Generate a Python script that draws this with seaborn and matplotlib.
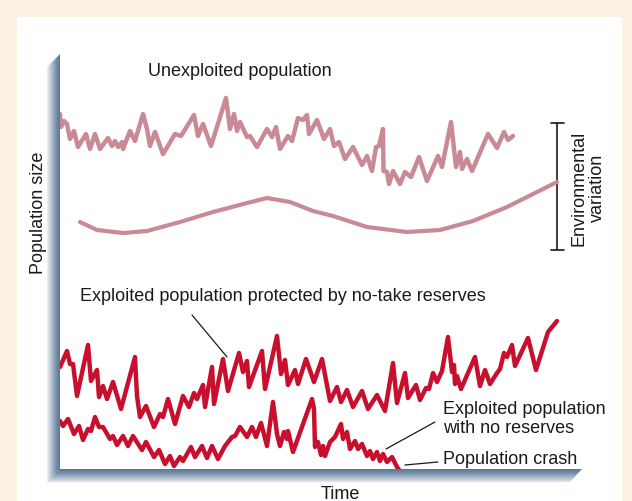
import numpy as np
import matplotlib
matplotlib.use("Agg")
import matplotlib.pyplot as plt
from matplotlib.colors import LinearSegmentedColormap
from matplotlib.patches import Polygon, Rectangle
import seaborn as sns

# DATA (time units / population size units)
# -----------------------------

unexploited_time = [0, 1, 4, 7, 10, 14, 18, 26, 30, 35, 40, 48, 52, 55, 58, 62, 63, 70, 75, 83,
                    87, 90, 95, 103, 115, 121, 134, 138, 143, 151, 166, 170, 174, 177, 180, 187,
                    190, 197, 207, 212, 216, 220, 228, 232, 238, 243, 247, 249, 257, 264, 270,
                    274, 279, 285, 293, 302, 307, 312, 316, 319, 323, 323.5, 327, 329, 333, 340,
                    345, 351, 359, 367, 378, 382, 391, 396, 400, 402, 407, 412, 428, 437, 444,
                    448, 453]
unexploited_size = [355, 342, 348, 345, 330, 338, 322, 335, 320, 335, 320, 331, 323, 328, 322, 327,
                    320, 338, 328, 355, 340, 323, 337, 315, 335, 333, 354, 333, 345, 323, 371,
                    340, 355, 338, 347, 332, 333, 322, 340, 332, 342, 320, 333, 328, 351, 349,
                    354, 335, 349, 330, 340, 323, 327, 310, 322, 304, 313, 298, 322, 323, 340,
                    298, 297, 285, 298, 285, 297, 292, 312, 288, 313, 302, 347, 302, 317, 300,
                    310, 298, 335, 321, 337, 329, 333]

environment_time = [20, 37, 63, 87, 120, 153, 187, 207, 230, 253, 273, 307, 347, 380, 413, 447,
                    473, 497]
environment_size = [247, 239, 236, 238, 247, 257, 266, 271, 267, 258, 253, 242, 237, 239, 248,
                    262, 275, 287]

reserves_time = [0, 7, 10, 13, 17, 28, 31, 37, 39, 43, 47, 53, 61, 75, 77, 80, 86, 94, 100, 103,
                 108, 115, 123, 129, 134, 137, 143, 145, 152, 154, 163, 168, 179, 183, 187, 189,
                 202, 205, 217, 221, 225, 228, 235, 238, 246, 254, 262, 270, 277, 281, 287, 293,
                 302, 308, 317, 325, 333, 337, 345, 348, 356, 360, 366, 369, 373, 377, 382, 388,
                 392, 394, 395, 397, 401, 415, 420, 425, 430, 437, 440, 444, 447, 452, 455, 468,
                 476, 488, 497]
reserves_size = [102, 118, 105, 105, 73, 124, 88, 99, 72, 83, 70, 87, 60, 112, 73, 52, 63, 42, 55,
                 52, 70, 45, 73, 62, 76, 70, 84, 62, 102, 65, 110, 78, 116, 97, 108, 82, 118, 80,
                 133, 95, 109, 84, 99, 85, 110, 87, 110, 68, 82, 67, 79, 62, 78, 60, 74, 58, 106,
                 66, 96, 71, 84, 69, 81, 80, 96, 87, 98, 132, 97, 104, 85, 93, 80, 112, 83, 99,
                 85, 96, 100, 116, 112, 124, 103, 131, 99, 137, 148]

no_reserves_time = [0, 3, 8, 12, 14, 19, 23, 28, 31, 35, 39, 43, 50, 53, 57, 63, 68, 73, 82, 86,
                    94, 99, 105, 110, 114, 120, 123, 131, 135, 142, 147, 152, 158, 165, 172, 175,
                    180, 187, 192, 196, 201, 207, 213, 217, 220, 224, 227, 228, 233, 252, 254,
                    255, 258, 261, 263, 265, 270, 275, 281, 283, 287, 290, 295, 298, 302, 307,
                    310, 313, 317, 320, 323, 327, 332, 337, 340]
no_reserves_size = [48, 43, 50, 40, 35, 43, 29, 40, 38, 52, 42, 42, 30, 33, 24, 33, 23, 33, 19, 27,
                    12, 19, 5, 13, 3, 12, 8, 22, 12, 23, 11, 23, 10, 23, 32, 33, 42, 32, 42, 32,
                    46, 23, 67, 35, 23, 37, 30, 38, 17, 70, 60, 22, 27, 14, 23, 13, 27, 32, 45,
                    30, 37, 20, 28, 20, 25, 13, 18, 10, 17, 8, 15, 7, 12, 2, -2]

PINK = "#c98a95"
RED = "#c8102e"
TEXT = "#1a1a1a"

# FIGURE
# -----------------------------

sns.set_style("white")
plt.rcParams["font.family"] = ["Liberation Sans", "DejaVu Sans"]

fig = plt.figure(figsize=(6.32, 5.02), dpi=100)
fig.patch.set_facecolor("#fdf1e3")

# decoration layer in pixel units
bg = fig.add_axes([0, 0, 1, 1], zorder=0)
bg.set_xlim(0, 632)
bg.set_ylim(502, 0)
bg.axis("off")
bg.add_patch(Rectangle((17, 18), 605, 490, facecolor="white", edgecolor="none", zorder=1))

bevel = LinearSegmentedColormap.from_list("bevel", ["#eef0f3", "#b3bfcd", "#7590ac", "#52708f"])
left_bar = Polygon([(47, 68), (60, 55), (60, 470), (47, 483)], closed=True,
                   facecolor="none", edgecolor="none")
bottom_bar = Polygon([(47, 483), (60, 470), (582, 470), (570, 483)], closed=True,
                     facecolor="none", edgecolor="none")
bg.add_patch(left_bar)
bg.add_patch(bottom_bar)
grad = np.linspace(0, 1, 64)
im1 = bg.imshow(grad[np.newaxis, :], cmap=bevel, aspect="auto", zorder=3,
                extent=[47, 60.5, 484, 54], interpolation="bilinear")
im1.set_clip_path(left_bar)
im2 = bg.imshow(grad[::-1, np.newaxis], cmap=bevel, aspect="auto", zorder=3,
                extent=[46, 583, 484, 469.5], interpolation="bilinear")
im2.set_clip_path(bottom_bar)
bg.set_xlim(0, 632)
bg.set_ylim(502, 0)

# bracket for environmental variation
bg.plot([557, 557], [124, 251], color=TEXT, lw=1.2, zorder=4)
bg.plot([551, 564], [124, 124], color=TEXT, lw=1.2, zorder=4)
bg.plot([551, 564], [251, 251], color=TEXT, lw=1.2, zorder=4)

# pointer lines
bg.plot([192, 227], [316, 358], color=TEXT, lw=0.9, zorder=4)
bg.plot([435, 386], [423, 450], color=TEXT, lw=0.9, zorder=4)
bg.plot([438, 405], [463, 466], color=TEXT, lw=0.9, zorder=4)

bg.text(148, 71, "Unexploited population", fontsize=13, color=TEXT, va="center", ha="left")
bg.text(80, 297, "Exploited population protected by no-take reserves", fontsize=13,
        color=TEXT, va="center", ha="left")
bg.text(443, 419, "Exploited population\nwith no reserves", fontsize=13, color=TEXT,
        va="center", ha="left", linespacing=1.1)
bg.text(443, 460, "Population crash", fontsize=13, color=TEXT, va="center", ha="left")
bg.text(588, 188, "Environmental\nvariation", fontsize=13, color=TEXT, va="center",
        ha="center", rotation=90, linespacing=1.1)

# chart layer
ax = fig.add_axes([60 / 632, 32 / 502, 520 / 632, 415 / 502], zorder=1)
ax.patch.set_alpha(0)

line_kw = dict(ax=ax, estimator=None, sort=False, legend=False,
               solid_joinstyle="round", solid_capstyle="round")
sns.lineplot(x=unexploited_time, y=unexploited_size, color=PINK, lw=3.2, **line_kw)
sns.lineplot(x=environment_time, y=environment_size, color=PINK, lw=3.0, **line_kw)
sns.lineplot(x=reserves_time, y=reserves_size, color=RED, lw=3.2, **line_kw)
sns.lineplot(x=no_reserves_time, y=no_reserves_size, color=RED, lw=3.2, **line_kw)

ax.set_xlim(0, 520)
ax.set_ylim(0, 415)
ax.set_xticks([])
ax.set_yticks([])
for s in ax.spines.values():
    s.set_visible(False)

ax.set_ylabel("Population size", fontsize=13, color=TEXT)
ax.yaxis.set_label_coords(-13 / 520, 0.619)
ax.set_xlabel("Time", fontsize=13, color=TEXT)
ax.xaxis.set_label_coords(0.54, -16 / 415)
ax.xaxis.label.set_va("top")

fig.savefig("out.png", dpi=100, facecolor=fig.get_facecolor())
